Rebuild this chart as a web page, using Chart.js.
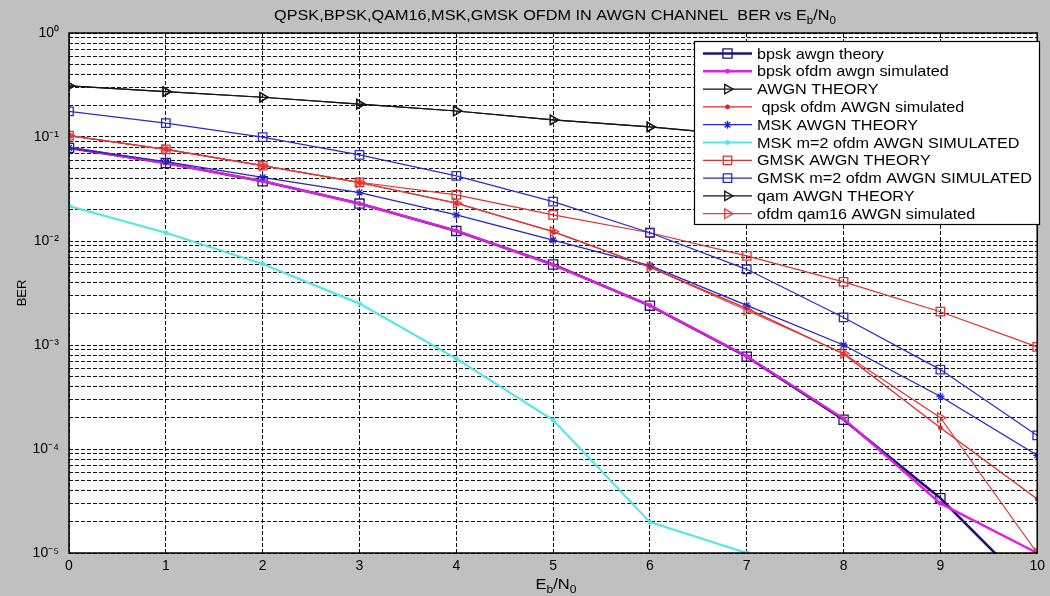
<!DOCTYPE html>
<html>
<head>
<meta charset="utf-8">
<script src="https://cdn.jsdelivr.net/npm/chart.js@4.4.0/dist/chart.umd.min.js"></script>
<style>
  html, body { margin: 0; padding: 0; background: #c0c0c0; }
  #wrap { width: 1050px; height: 596px; }
</style>
</head>
<body>
<div id="wrap"><canvas id="berChart" width="1050" height="596"></canvas></div>
<script>
// Eb/N0 in dB
var ebNo = [0, 1, 2, 3, 4, 5, 6, 7, 8, 9, 10];

// BER curves
var bpskTheory   = [0.0786, 0.0563, 0.0375, 0.0229, 0.0125, 0.00595, 0.00239, 0.000773, 0.000191, 0.0000336, 0.0000039];
var bpskOfdmSim  = [0.0790, 0.0560, 0.0376, 0.0228, 0.0126, 0.0059, 0.0024, 0.00078, 0.000196, 0.000030, 0.0000100];
var awgnTheory   = [0.310, 0.273, 0.241, 0.207, 0.178, 0.146, 0.125, 0.103, 0.084, 0.067, 0.053];
var qpskOfdmSim  = [0.103, 0.076, 0.053, 0.0365, 0.0231, 0.0123, 0.0056, 0.00225, 0.00082, 0.00016, 0.000033];
var mskTheory    = [0.0786, 0.058, 0.041, 0.0292, 0.0178, 0.0102, 0.0058, 0.0024, 0.00100, 0.00032, 0.000087];
var mskOfdmSim   = [0.0217, 0.0120, 0.0060, 0.0025, 0.00074, 0.00019, 0.0000198, 0.0000100, null, null, null];
var gmskTheory   = [0.103, 0.076, 0.053, 0.0367, 0.0278, 0.0178, 0.0120, 0.0072, 0.00405, 0.00209, 0.00096];
var gmskOfdmSim  = [0.176, 0.136, 0.0998, 0.0674, 0.0423, 0.0239, 0.0120, 0.00534, 0.00184, 0.00058, 0.000135];
var qamTheory    = [0.310, 0.273, 0.241, 0.207, 0.178, 0.146, 0.125, 0.103, 0.084, 0.067, 0.053];
var qam16OfdmSim = [0.103, 0.076, 0.053, 0.0365, 0.0231, 0.0123, 0.0056, 0.00216, 0.00083, 0.00020, 0.0000100];

// y grid: 1..9 x 10^k, labels only on the decades
var yMin = 1e-5, yMax = 1;
var yTickValues = [];
for (var k = -5; k < 0; k++) {
    for (var m = 1; m <= 9; m++) yTickValues.push(m * Math.pow(10, k));
}
yTickValues.push(1);

var SUP = {'-': '\u207B', '0': '\u2070', '1': '\u00B9', '2': '\u00B2', '3': '\u00B3', '4': '\u2074', '5': '\u2075'};
function decadeLabel(v) {
    var e = Math.log10(v), r = Math.round(e);
    if (Math.abs(e - r) > 1e-9) return '';
    return '10' + String(r).split('').map(function (c) { return SUP[c]; }).join('');
}

function series(label, data, color, width, style, radius, rotation, fill) {
    return {
        label: label,
        data: ebNo.map(function (x, i) { return {x: x, y: data[i]}; }),
        borderColor: color,
        borderWidth: width,
        pointStyle: style,
        pointRadius: radius,
        pointRotation: rotation || 0,
        pointBorderColor: color,
        pointBorderWidth: 1.3,
        pointBackgroundColor: fill ? color : 'rgba(0,0,0,0)',
        pointHoverRadius: radius,
        tension: 0,
        spanGaps: false
    };
}

var datasets = [
    series('bpsk awgn theory', bpskTheory, '#20107a', 2.6, 'rect', 6.5),
    series('bpsk ofdm awgn simulated', bpskOfdmSim, '#e020e0', 2.4, 'circle', 1.8, 0, true),
    series('AWGN THEORY', awgnTheory, '#151515', 1.1, 'triangle', 5.5, 90),
    series(' qpsk ofdm AWGN simulated', qpskOfdmSim, '#e02828', 1.3, 'circle', 1.8, 0, true),
    series('MSK AWGN THEORY', mskTheory, '#2424c8', 1.3, 'star', 4),
    series('MSK m=2 ofdm AWGN SIMULATED', mskOfdmSim, '#55e6e6', 2.2, 'circle', 1.8, 0, true),
    series('GMSK AWGN THEORY', gmskTheory, '#e03030', 1.2, 'rect', 6),
    series('GMSK m=2 ofdm AWGN SIMULATED', gmskOfdmSim, '#2a2ad0', 1.2, 'rect', 6),
    series('qam AWGN THEORY', qamTheory, '#151515', 1.1, 'triangle', 5.5, 90),
    series('ofdm qam16 AWGN simulated', qam16OfdmSim, '#e03a3a', 1.2, 'triangle', 5.5, 90)
];
// later curves sit on top, like the plotting order
datasets.forEach(function (d, i) { d.order = datasets.length - i; });

var FONT = '"Liberation Sans", Arial, sans-serif';
var GRID_DASH = [4, 2];

// text with subscript pieces, stretched a little horizontally
function drawRichText(ctx, parts, cx, cy, size, stretch) {
    var subSize = Math.round(size * 0.72);
    var total = 0;
    parts.forEach(function (p) {
        ctx.font = (p[1] ? subSize : size) + 'px ' + FONT;
        p.w = ctx.measureText(p[0]).width;
        total += p.w;
    });
    ctx.save();
    ctx.translate(cx, cy);
    ctx.scale(stretch, 1);
    ctx.fillStyle = '#000';
    ctx.textBaseline = 'alphabetic';
    var x = -total / 2;
    parts.forEach(function (p) {
        ctx.font = (p[1] ? subSize : size) + 'px ' + FONT;
        ctx.fillText(p[0], x, p[1] ? size * 0.62 : size * 0.36);
        x += p.w;
    });
    ctx.restore();
}

var decorations = {
    id: 'decorations',
    beforeDraw: function (chart) {
        var a = chart.chartArea, ctx = chart.ctx;
        ctx.save();
        ctx.fillStyle = '#ffffff';
        ctx.fillRect(a.left, a.top, a.right - a.left, a.bottom - a.top);
        ctx.restore();
    },
    afterDraw: function (chart) {
        var a = chart.chartArea, ctx = chart.ctx;
        ctx.save();
        // axes box
        ctx.strokeStyle = '#000';
        ctx.lineWidth = 1.5;
        ctx.strokeRect(a.left, a.top, a.right - a.left, a.bottom - a.top);

        // legend
        var lx = 694, ly = 41, lw = 345, lh = 183;
        ctx.fillStyle = '#fff';
        ctx.fillRect(lx, ly, lw, lh);
        ctx.lineWidth = 1.2;
        ctx.strokeStyle = '#000';
        ctx.strokeRect(lx + 0.5, ly + 0.5, lw, lh);
        chart.data.datasets.forEach(function (ds, i) {
            var y = 53.5 + i * 17.8;
            ctx.strokeStyle = ds.borderColor;
            ctx.lineWidth = ds.borderWidth;
            ctx.beginPath();
            ctx.moveTo(703, y);
            ctx.lineTo(752, y);
            ctx.stroke();
            ctx.strokeStyle = ds.pointBorderColor;
            ctx.fillStyle = ds.pointBackgroundColor;
            ctx.lineWidth = ds.pointBorderWidth;
            Chart.helpers.drawPoint(ctx, {
                pointStyle: ds.pointStyle,
                radius: ds.pointRadius,
                rotation: ds.pointRotation,
                borderWidth: ds.pointBorderWidth
            }, 727.5, y);
            ctx.save();
            ctx.translate(757, y);
            ctx.scale(1.08, 1);
            ctx.fillStyle = '#000';
            ctx.font = '15px ' + FONT;
            ctx.textBaseline = 'middle';
            ctx.fillText(ds.label, 0, 1);
            ctx.restore();
        });

        // title and x label
        drawRichText(ctx, [['QPSK,BPSK,QAM16,MSK,GMSK OFDM IN AWGN CHANNEL  BER vs E', false], ['b', true], ['/N', false], ['0', true]],
            555, 15, 14, 1.16);
        drawRichText(ctx, [['E', false], ['b', true], ['/N', false], ['0', true]], 556, 584, 15, 1.1);
        ctx.restore();
    }
};

new Chart(document.getElementById('berChart').getContext('2d'), {
    type: 'line',
    data: {datasets: datasets},
    plugins: [decorations],
    options: {
        responsive: false,
        devicePixelRatio: 1,
        animation: false,
        layout: {padding: {left: 0, top: 33, right: 7, bottom: 0}},
        plugins: {legend: {display: false}, tooltip: {enabled: false}},
        scales: {
            x: {
                type: 'linear',
                min: 0,
                max: 10,
                afterFit: function (s) { s.height = 43; },
                ticks: {stepSize: 1, color: '#000', padding: 5, font: {family: FONT, size: 14}},
                grid: {color: '#111', lineWidth: 1, drawTicks: false, borderDash: GRID_DASH},
                border: {display: true, width: 0, dash: GRID_DASH}
            },
            y: {
                type: 'logarithmic',
                min: yMin,
                max: yMax,
                afterFit: function (s) { s.width = 69; },
                afterBuildTicks: function (s) {
                    s.ticks = yTickValues.map(function (v) { return {value: v}; });
                },
                ticks: {
                    autoSkip: false,
                    color: '#000',
                    padding: 10,
                    font: {family: FONT, size: 14},
                    callback: function (v) { return decadeLabel(v); }
                },
                grid: {color: '#111', lineWidth: 1, drawTicks: false, borderDash: GRID_DASH},
                border: {display: true, width: 0, dash: GRID_DASH},
                title: {display: true, text: 'BER', color: '#000', font: {family: FONT, size: 13}, padding: {top: 15, bottom: 0}}
            }
        }
    }
});
</script>
</body>
</html>
